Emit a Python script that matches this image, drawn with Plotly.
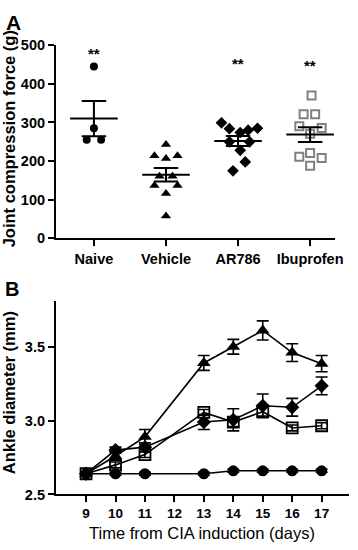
import numpy as np
import plotly.graph_objects as go

# ---------------- Panel A data ----------------
groups = ["Naive", "Vehicle", "AR786", "Ibuprofen"]
naive_force = [445, 285, 255, 255]
vehicle_force = [243, 214, 214, 207, 161, 161, 137, 137, 116, 58]
ar786_force = [299, 284, 274, 280, 285, 250, 250, 228, 198, 175]
ibuprofen_force = [370, 321, 321, 290, 286, 271, 211, 221, 208, 188]
sig_labels = ["**", "", "**", "**"]
sig_levels = [487, None, 460, 454]

# horizontal scatter offsets (category units) for the dot plot
naive_dx = [0, 0, -0.1, 0.1]
vehicle_dx = [0, -0.16, 0.16, 0, -0.09, 0.09, -0.16, 0.16, 0, 0]
ar786_dx = [-0.23, -0.12, 0.03, 0.14, 0.27, -0.12, 0.16, 0.03, 0.1, -0.07]
ibuprofen_dx = [0.02, -0.09, 0.07, -0.15, 0.16, 0, -0.15, 0, 0.16, 0]

# ---------------- Panel B data ----------------
days = [9, 10, 11, 13, 14, 15, 16, 17]
naive_ankle = [2.64, 2.64, 2.64, 2.64, 2.66, 2.66, 2.66, 2.66]
naive_err = [0.01, 0.01, 0.01, 0.01, 0.01, 0.01, 0.01, 0.01]
vehicle_ankle = [2.64, 2.76, 2.89, 3.39, 3.50, 3.61, 3.46, 3.385]
vehicle_err = [0.01, 0.03, 0.05, 0.05, 0.05, 0.065, 0.06, 0.055]
ar786_ankle = [2.64, 2.80, 2.82, 2.99, 3.005, 3.10, 3.09, 3.235]
ar786_err = [0.01, 0.02, 0.03, 0.05, 0.075, 0.08, 0.06, 0.06]
ibuprofen_ankle = [2.64, 2.70, 2.77, 3.055, 2.99, 3.06, 2.95, 2.965]
ibuprofen_err = [0.01, 0.02, 0.02, 0.02, 0.03, 0.03, 0.02, 0.02]
day_ticks = [9, 10, 11, 12, 13, 14, 15, 16, 17]

W, H = 358, 550
FONT = "Liberation Sans, Arial, sans-serif"


def px(x):
    return x / W


def py(y):
    return 1 - y / H


fig = go.Figure()

# ---- Panel A points ----
a_sets = [
    (naive_force, naive_dx, dict(symbol="circle", size=8, color="black")),
    (vehicle_force, vehicle_dx, dict(symbol="triangle-up", size=9, color="black")),
    (ar786_force, ar786_dx, dict(symbol="diamond", size=9, color="black")),
    (ibuprofen_force, ibuprofen_dx,
     dict(symbol="square-open", size=8, color="#808080", line=dict(width=2, color="#808080"))),
]
for i, (vals, dx, mk) in enumerate(a_sets):
    fig.add_trace(go.Scatter(
        x=[i + d for d in dx], y=vals, mode="markers", marker=mk,
        xaxis="x", yaxis="y", showlegend=False, hoverinfo="y"))

# mean +/- SEM
for i, (vals, dx, mk) in enumerate(a_sets):
    arr = np.array(vals, dtype=float)
    m = arr.mean()
    s = arr.std(ddof=1) / np.sqrt(len(arr))
    segs_x = [i - 0.33, i + 0.33, None,
              i, i, None,
              i - 0.17, i + 0.17, None,
              i - 0.17, i + 0.17]
    segs_y = [m, m, None,
              m - s, m + s, None,
              m + s, m + s, None,
              m - s, m - s]
    fig.add_trace(go.Scatter(
        x=segs_x, y=segs_y, mode="lines",
        line=dict(color="black", width=2),
        xaxis="x", yaxis="y", showlegend=False, hoverinfo="skip"))

for i, (lab, lev) in enumerate(zip(sig_labels, sig_levels)):
    if lab:
        fig.add_annotation(x=i, y=lev, xref="x", yref="y", text="<b>%s</b>" % lab,
                           showarrow=False, yshift=-3,
                           font=dict(family=FONT, size=15, color="black"))

# ---- Panel B ----
b_sets = [
    (naive_ankle, naive_err, dict(symbol="circle", size=11, color="black")),
    (ibuprofen_ankle, ibuprofen_err,
     dict(symbol="square-open", size=11, color="black", line=dict(width=1.8, color="black"))),
    (ar786_ankle, ar786_err, dict(symbol="diamond", size=11, color="black")),
    (vehicle_ankle, vehicle_err, dict(symbol="triangle-up", size=12, color="black")),
]
for vals, err, mk in b_sets:
    fig.add_trace(go.Scatter(
        x=days, y=vals, mode="lines+markers", marker=mk,
        line=dict(color="black", width=1.6),
        error_y=dict(type="data", array=err, visible=True, color="black",
                     thickness=1.6, width=6),
        xaxis="x2", yaxis="y2", showlegend=False))

axis_common = dict(showline=True, linecolor="black", linewidth=1.6,
                   ticks="outside", ticklen=6, tickwidth=1.6, tickcolor="black",
                   showgrid=False, zeroline=False, mirror=False)

fig.update_layout(
    width=W, height=H, autosize=False,
    margin=dict(l=0, r=0, t=0, b=0),
    paper_bgcolor="white", plot_bgcolor="white",
    font=dict(family=FONT, color="black"),
    xaxis=dict(domain=[px(57), px(343)], range=[-0.53, 3.35], anchor="y",
               tickvals=[0, 1, 2, 3], ticktext=groups,
               tickfont=dict(family=FONT, size=14.5, weight="bold"), **axis_common),
    yaxis=dict(domain=[py(237.3), py(38.3)], range=[0, 500], anchor="x",
               tickvals=[0, 100, 200, 300, 400, 500],
               tickfont=dict(family=FONT, size=14.5, weight="bold"), **axis_common),
    xaxis2=dict(domain=[px(57), px(357)], range=[7.97, 17.93], anchor="y2",
                tickvals=day_ticks,
                tickfont=dict(family=FONT, size=13.5, weight="bold"), **axis_common),
    yaxis2=dict(domain=[py(501), py(301.7)], range=[2.5, 3.81], anchor="x2",
                tickvals=[2.5, 3.0, 3.5], ticktext=["2.5", "3.0", "3.5"],
                tickfont=dict(family=FONT, size=14.5, weight="bold"), **axis_common),
)

# axis titles and panel letters
fig.add_annotation(x=px(9.5), y=py(135), xref="paper", yref="paper",
                   text="<b>Joint compression force (g)</b>", textangle=-90,
                   showarrow=False, xanchor="center", yanchor="middle",
                   font=dict(family=FONT, size=16.5, color="black"))
fig.add_annotation(x=px(10), y=py(396), xref="paper", yref="paper",
                   text="<b>Ankle diameter (mm)</b>", textangle=-90,
                   showarrow=False, xanchor="center", yanchor="middle",
                   font=dict(family=FONT, size=16.5, color="black"))
fig.add_annotation(x=px(207), y=py(540.5), xref="paper", yref="paper",
                   text="Time from CIA induction (days)",
                   showarrow=False, xanchor="center", yanchor="middle",
                   font=dict(family=FONT, size=16.5, color="black"))
fig.add_annotation(x=px(4), y=py(15), xref="paper", yref="paper",
                   text="<b>A</b>", showarrow=False, xanchor="left", yanchor="middle",
                   font=dict(family=FONT, size=21, color="black"))
fig.add_annotation(x=px(3), y=py(289), xref="paper", yref="paper",
                   text="<b>B</b>", showarrow=False, xanchor="left", yanchor="middle",
                   font=dict(family=FONT, size=20, color="black"))

fig.write_html("out.html",
               config={"displayModeBar": False},
               post_script="document.body.style.margin='0px';"
                           "document.body.style.overflow='hidden';")
